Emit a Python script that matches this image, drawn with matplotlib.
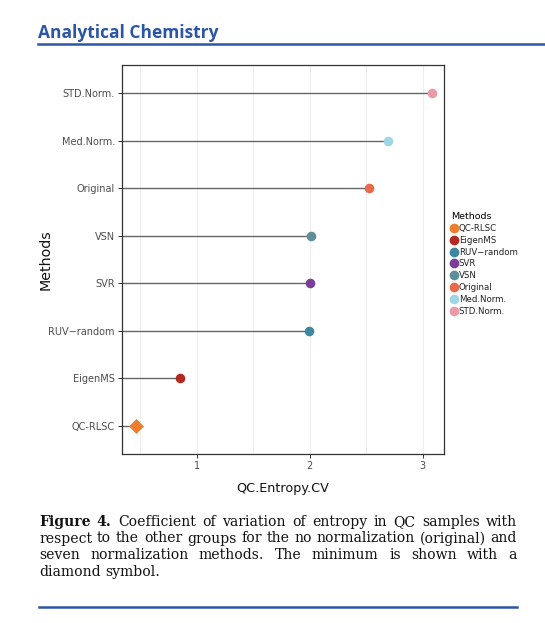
import matplotlib
matplotlib.use("Agg")
import matplotlib.pyplot as plt
from matplotlib.lines import Line2D

# data, bottom to top as in the chart
methods = ["QC-RLSC", "EigenMS", "RUV\u2212random", "SVR", "VSN", "Original", "Med.Norm.", "STD.Norm."]
cv_values = [0.46, 0.855, 1.995, 2.005, 2.012, 2.52, 2.69, 3.08]
colors = ["#EE7D2F", "#B22A1F", "#3D87A0", "#7C3D98", "#5C8F97", "#E8694B", "#9ED7E3", "#EB9AAA"]
markers = ["D", "o", "o", "o", "o", "o", "o", "o"]
xticks = [1, 2, 3]
minor_xticks = [0.5, 1.5, 2.5]

W, H = 545, 623
fig = plt.figure(figsize=(W / 100, H / 100), dpi=100)

def fx(px):
    return px / W

def fy(py):
    return 1 - py / H

# journal header
fig.text(fx(38), fy(38), "Analytical Chemistry", color="#2A56A5",
         fontsize=12.5, fontweight="bold", family="Open Sans", va="baseline")
fig.add_artist(Line2D([fx(38), 1.0], [fy(43.5), fy(43.5)], color="#2A56A5", lw=1.8))

# plot panel
ax = fig.add_axes([fx(121.7), fy(454), fx(444) - fx(121.7), fy(65) - fy(454)])
ypos = list(range(1, len(methods) + 1))
for y, v in zip(ypos, cv_values):
    ax.plot([0, v], [y, y], color="#666666", lw=1.0, zorder=2, solid_capstyle="butt")
for y, v, c, m in zip(ypos, cv_values, colors, markers):
    ax.scatter([v], [y], s=48 if m == "o" else 58, color=c, marker=m, zorder=3, linewidths=0)

ax.set_xlim(0.336, 3.188)
ax.set_ylim(0.4, len(methods) + 0.6)
ax.set_xticks(xticks)
ax.set_xticks(minor_xticks, minor=True)
ax.set_yticks(ypos)
ax.set_yticklabels(methods)
ax.grid(True, axis="x", which="both", color="#EEEEEE", lw=0.8, zorder=0)
ax.grid(False, axis="y")
ax.tick_params(axis="both", which="major", labelsize=7.0, labelcolor="#4D4D4D",
               color="#333333", length=3, width=0.7, pad=2)
ax.tick_params(axis="x", which="minor", length=0)
for s in ax.spines.values():
    s.set_color("#333333")
    s.set_linewidth(0.9)
ax.set_xlabel("QC.Entropy.CV", fontsize=9.2, color="#111111", labelpad=8)
ax.set_ylabel("Methods", fontsize=10.3, color="#111111")
ax.yaxis.set_label_coords(-0.215, 0.5)

# legend
handles = [Line2D([], [], marker="o", ls="none", color=c, markersize=7, markeredgewidth=0)
           for c in colors]
leg = ax.legend(handles, methods, title="Methods", loc="upper left",
                bbox_to_anchor=(fx(451), fy(212)), bbox_transform=fig.transFigure,
                frameon=False, fontsize=6.2, title_fontsize=6.8,
                handlelength=0.7, handletextpad=0.2, labelspacing=0.33,
                borderaxespad=0, borderpad=0)
leg._legend_box.align = "left"
for t in leg.get_texts():
    t.set_color("#222222")

# caption, justified
cap_lines = [
    [("Figure", "bold"), ("4.", "bold"), ("Coefficient", "normal"), ("of", "normal"),
     ("variation", "normal"), ("of", "normal"), ("entropy", "normal"), ("in", "normal"),
     ("QC", "normal"), ("samples", "normal"), ("with", "normal")],
    [(w, "normal") for w in "respect to the other groups for the no normalization (original) and".split()],
    [(w, "normal") for w in "seven normalization methods. The minimum is shown with a".split()],
    [(w, "normal") for w in "diamond symbol.".split()],
]
cap_left, cap_right = 39, 517
cap_base = [526, 542.5, 559, 576]
renderer = fig.canvas.get_renderer()
for i, line in enumerate(cap_lines):
    texts = []
    for w, wt in line:
        t = fig.text(0, fy(cap_base[i]), w, fontsize=10.1, family="DejaVu Serif",
                     fontweight=wt, color="#111111", va="baseline")
        texts.append(t)
    widths = [t.get_window_extent(renderer).width for t in texts]
    space = 4.5
    if i < len(cap_lines) - 1:
        space = (cap_right - cap_left - sum(widths)) / (len(texts) - 1)
    x = cap_left
    for t, w in zip(texts, widths):
        t.set_x(fx(x))
        x += w + space

fig.add_artist(Line2D([fx(39), fx(517)], [fy(607), fy(607)], color="#2A56A5", lw=1.8))

fig.savefig("out.png", dpi=100)
